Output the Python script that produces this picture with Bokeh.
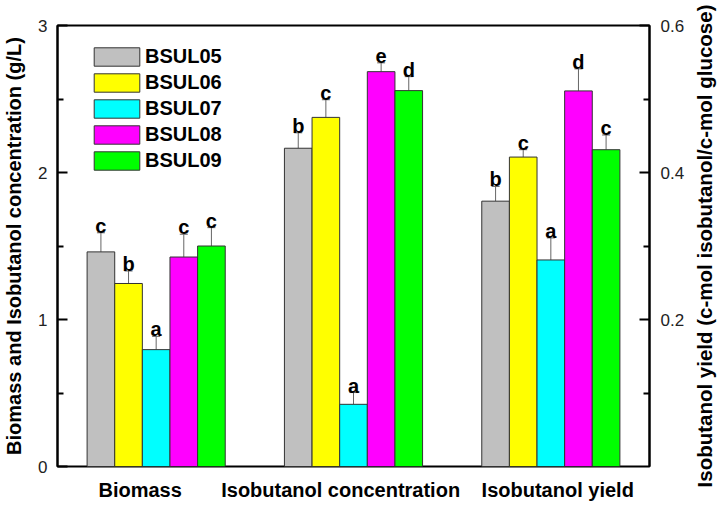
import math
from bokeh.plotting import figure
from bokeh.layouts import row
from bokeh.models import (Range1d, LinearAxis, FixedTicker, Whisker, TeeHead,
                          ColumnDataSource, Legend, LegendItem)
from bokeh.core.properties import value
from bokeh.embed import file_html
from bokeh.resources import INLINE

# ---------------- data ----------------
groups = ["Biomass", "Isobutanol  concentration", "Isobutanol yield"]
strains = ["BSUL05", "BSUL06", "BSUL07", "BSUL08", "BSUL09"]
colors = ["#C0C0C0", "#FFFF00", "#00FFFF", "#FF00FF", "#00FF00"]

biomass = [1.46, 1.245, 0.795, 1.425, 1.50]
biomass_err = [0.13, 0.085, 0.09, 0.155, 0.125]
conc = [2.165, 2.375, 0.423, 2.686, 2.557]
conc_err = [0.105, 0.12, 0.08, 0.06, 0.095]
yld = [0.361, 0.421, 0.281, 0.511, 0.431]
yld_err = [0.02, 0.01, 0.03, 0.03, 0.02]

letters_biomass = ["c", "b", "a", "c", "c"]
letters_conc = ["b", "c", "a", "e", "d"]
letters_yield = ["b", "c", "a", "d", "c"]

left_ticks = [0, 1, 2, 3]
left_minor = [0.5, 1.5, 2.5]
right_ticks = [0.2, 0.4, 0.6]
right_minor = [0.1, 0.3, 0.5]

left_title = "Biomass and Isobutanol concentration (g/L)"
right_title = "Isobutanol yield (c-mol isobutanol/c-mol glucose)"

# ---------------- style ----------------
FONT = "Liberation Sans"
BAR_W = 0.14
label_px_offsets = [-16, -10, 7]   # horizontal nudge of category labels, in pixels
PX_PER_UNIT = 593 / 3.0

p = figure(width=687, height=509, x_range=Range1d(0.5, 3.5), y_range=Range1d(0, 3),
           output_backend="svg", toolbar_location=None, x_axis_location=None,
           min_border_left=57, min_border_right=37, min_border_top=25, min_border_bottom=43)
p.extra_y_ranges = {"yield": Range1d(0, 0.6)}
p.xgrid.visible = False
p.ygrid.visible = False
p.outline_line_color = "black"
p.outline_line_width = 2
p.background_fill_color = "white"
p.border_fill_color = "white"

legend_items = []
for i, s in enumerate(strains):
    off = (i - 2) * BAR_W
    xs = [1 + off, 2 + off]
    tops = [biomass[i], conc[i]]
    errs = [biomass_err[i], conc_err[i]]
    lets = [letters_biomass[i], letters_conc[i]]
    src = ColumnDataSource(dict(x=xs, top=tops, upper=[t + e for t, e in zip(tops, errs)], let=lets))
    r = p.vbar(x="x", top="top", width=BAR_W, bottom=0, source=src,
               fill_color=colors[i], line_color="#333333", line_width=1)
    src_y = ColumnDataSource(dict(x=[3 + off], top=[yld[i]], upper=[yld[i] + yld_err[i]],
                                  let=[letters_yield[i]]))
    p.vbar(x="x", top="top", width=BAR_W, bottom=0, source=src_y, y_range_name="yield",
           fill_color=colors[i], line_color="#333333", line_width=1)
    for sr, rn in ((src, "default"), (src_y, "yield")):
        w = Whisker(base="x", lower="top", upper="upper", source=sr, dimension="height",
                    line_color="#666666", line_width=1,
                    upper_head=TeeHead(size=8, line_color="#666666", line_width=1),
                    lower_head=None, y_range_name=rn)
        p.add_layout(w)
        p.text(x="x", y="upper", text="let", source=sr, y_range_name=rn,
               text_align="center", text_baseline="alphabetic", y_offset=-7,
               text_font=value(FONT), text_font_style="bold", text_font_size="20px",
               text_color="black")
    legend_items.append(LegendItem(label=s, renderers=[r]))

legend = Legend(items=legend_items, location=(31, 294), glyph_width=57, glyph_height=23,
                label_height=23, spacing=3, padding=0, margin=0, label_standoff=0,
                border_line_color=None, background_fill_alpha=0,
                label_text_font=FONT, label_text_font_style="bold",
                label_text_font_size="20px", label_text_color="black")
p.add_layout(legend)

# bottom category axis
cat_ticks = [round(k + 1 + label_px_offsets[k] / PX_PER_UNIT, 3) for k in range(len(groups))]
xb = LinearAxis(ticker=FixedTicker(ticks=cat_ticks, minor_ticks=[]),
                major_label_overrides={t: g for t, g in zip(cat_ticks, groups)})
xb.axis_line_color = None
xb.major_tick_line_color = None
xb.minor_tick_line_color = None
xb.major_label_standoff = 6
xb.major_label_text_font = FONT
xb.major_label_text_font_style = "bold"
xb.major_label_text_font_size = "20px"
xb.major_label_text_color = "black"
p.add_layout(xb, "below")

# y axes
yl = p.yaxis[0]
yl.ticker = FixedTicker(ticks=left_ticks, minor_ticks=left_minor)
yl.axis_label = left_title
yl.axis_label_standoff = 10

yr = LinearAxis(y_range_name="yield",
                ticker=FixedTicker(ticks=right_ticks, minor_ticks=right_minor))
p.add_layout(yr, "right")

for ax in (yl, yr):
    ax.axis_line_color = "black"
    ax.axis_line_width = 2
    ax.major_tick_in = 10
    ax.major_tick_out = 0
    ax.minor_tick_in = 6
    ax.minor_tick_out = 0
    ax.major_tick_line_width = 2
    ax.minor_tick_line_width = 2
    ax.major_tick_line_color = "black"
    ax.minor_tick_line_color = "black"
    ax.major_label_standoff = 10
    ax.major_label_text_font = FONT
    ax.major_label_text_font_size = "17px"
    ax.major_label_text_color = "#222222"
    ax.axis_label_text_font = FONT
    ax.axis_label_text_font_style = "bold"
    ax.axis_label_text_font_size = "20px"
    ax.axis_label_text_color = "black"
yr.major_label_standoff = 11

# right-hand axis title (reads bottom-to-top): a label-only axis in a narrow side panel
side = figure(width=32, height=509, x_range=Range1d(0, 1), y_range=Range1d(0, 1),
              output_backend="svg", toolbar_location=None, x_axis_location=None,
              min_border_left=28, min_border_right=0, min_border_top=0, min_border_bottom=0)
side.outline_line_color = None
side.xgrid.visible = False
side.ygrid.visible = False
sa = side.yaxis[0]
sa.ticker = FixedTicker(ticks=[], minor_ticks=[])
sa.axis_line_color = None
sa.major_tick_line_color = None
sa.minor_tick_line_color = None
sa.axis_label = right_title
sa.axis_label_standoff = 0
sa.axis_label_text_font = FONT
sa.axis_label_text_font_style = "bold"
sa.axis_label_text_font_size = "20.5px"
sa.axis_label_text_color = "black"

layout = row(p, side, spacing=0)
open("out.html", "w").write(file_html(layout, INLINE))
